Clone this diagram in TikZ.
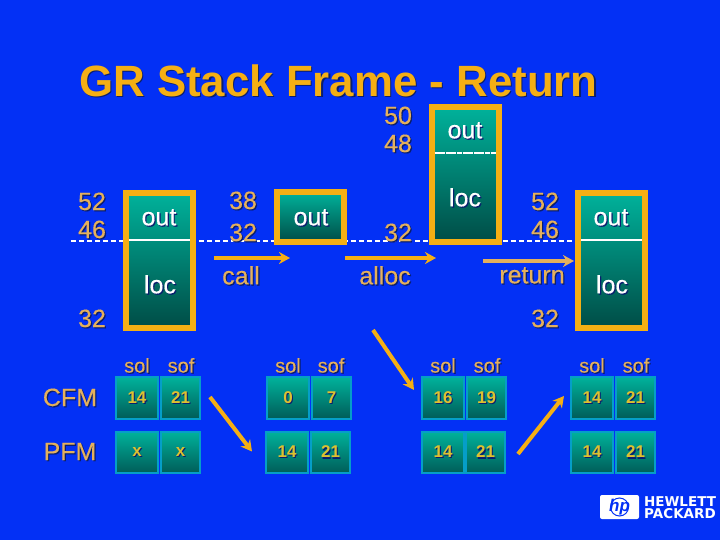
\documentclass[tikz,border=0pt]{standalone}
\usepackage{fontspec}
\setmainfont{Liberation Sans}
\newfontfamily\heavyfont[FakeBold=0.35]{Liberation Sans}
\newfontfamily\logofont{DejaVu Sans}
\usepackage{tikz}
\usetikzlibrary{
  arrows.meta,
  positioning,
  calc,
}
\definecolor{slideblue}{RGB}{3,48,245}
\definecolor{framegold}{RGB}{245,175,20}
\definecolor{labeltan}{RGB}{228,176,92}
\definecolor{cellyellow}{RGB}{222,192,48}
\definecolor{celledge}{RGB}{5,158,200}
\definecolor{tealtop}{RGB}{0,178,155}
\definecolor{tealbot}{RGB}{0,76,70}
\definecolor{cellbot}{RGB}{0,92,88}
\definecolor{shadowtone}{RGB}{10,30,110}
\newcommand{\shadowed}[1]{\makebox[0pt][l]{\kern1.2pt\raisebox{-1.2pt}{\textcolor{shadowtone}{#1}}}#1}

\begin{document}
\begin{tikzpicture}[
  x=1pt, y=-1pt,
  every node/.style={align=center, inner sep=0pt},
  framebox/.style={draw=framegold, line width=6pt, top color=tealtop, bottom color=tealbot, minimum width=67pt},
  tanlabel/.style={text=labeltan, font=\heavyfont\fontsize{25}{25}\selectfont},
  whitelabel/.style={text=white, font=\heavyfont\fontsize{25}{25}\selectfont},
  headlabel/.style={text=labeltan, font=\heavyfont\fontsize{20}{20}\selectfont},
  cell/.style={draw=celledge, line width=2pt, top color=tealtop, bottom color=cellbot,
    text=cellyellow, font=\fontsize{17}{17}\selectfont\bfseries, minimum height=41.5pt},
  solcell/.style={cell, minimum width=42pt},
  sofcell/.style={cell, minimum width=39pt},
  dashline/.style={white, line width=1.3pt, dash pattern=on 5pt off 3pt},
  splitline/.style={white, line width=1.3pt, shorten <=6pt, shorten >=6pt},
  goldarrow/.style={framegold, line width=4pt, -{Stealth[length=11pt, width=12pt]}},
  tanarrow/.style={labeltan, line width=4.5pt, -{Stealth[length=11pt, width=12pt]}},
]

\fill[slideblue] (0,0) rectangle (720,540);

\node[text=framegold, font=\fontsize{43.8}{43.8}\selectfont\bfseries, anchor=west] (title) at (79,81) {\shadowed{GR Stack Frame - Return}};

% dashed level across the frames
\coordinate (dashL) at (71,241);
\coordinate (dashR) at (575,241);
\draw[dashline] (dashL) -- (dashR);

% register frames
\node[framebox, minimum height=135pt] (frameA) at (159.5,260.5) {};
\node[framebox, minimum height=50pt] (frameB) at (310,217) {};
\node[framebox, minimum height=135pt] (frameC) at (465,174.5) {};
\node[framebox, minimum height=135pt] (frameD) at (611.5,260.5) {};

\coordinate (splitA) at (159.5,240);
\coordinate (splitC) at (465,153);
\coordinate (splitD) at (611.5,240);
\draw[splitline] (frameA.west |- splitA) -- (frameA.east |- splitA);
\draw[splitline, dash pattern=on 5pt off 0.6pt] (frameC.west |- splitC) -- (frameC.east |- splitC);
\draw[splitline] (frameD.west |- splitD) -- (frameD.east |- splitD);

\node[whitelabel] (outA) at (159,218) {\shadowed{out}};
\node[whitelabel] (locA) at (160,285) {\shadowed{loc}};
\node[whitelabel] (outB) at (311,218) {\shadowed{out}};
\node[whitelabel] (outC) at (465,131) {\shadowed{out}};
\node[whitelabel] (locC) at (465,198) {\shadowed{loc}};
\node[whitelabel] (outD) at (611,218) {\shadowed{out}};
\node[whitelabel] (locD) at (612,285) {\shadowed{loc}};

% register numbers
\node[tanlabel] (numA1) at (92,202) {\shadowed{52}};
\node[tanlabel] (numA2) at (92,230) {\shadowed{46}};
\node[tanlabel] (numA3) at (92,319) {\shadowed{32}};
\node[tanlabel] (numB1) at (243,201) {\shadowed{38}};
\node[tanlabel] (numB2) at (243,233) {\shadowed{32}};
\node[tanlabel] (numC1) at (398,116) {\shadowed{50}};
\node[tanlabel] (numC2) at (398,144) {\shadowed{48}};
\node[tanlabel] (numC3) at (398,233) {\shadowed{32}};
\node[tanlabel] (numD1) at (545,202) {\shadowed{52}};
\node[tanlabel] (numD2) at (545,230) {\shadowed{46}};
\node[tanlabel] (numD3) at (545,319) {\shadowed{32}};

% operations
\coordinate (callS) at (214,258);
\coordinate (callE) at (290,258);
\coordinate (allocS) at (345,258);
\coordinate (allocE) at (436,258);
\coordinate (returnS) at (483,261);
\coordinate (returnE) at (574,261);
\draw[goldarrow] (callS) -- (callE);
\draw[goldarrow] (allocS) -- (allocE);
\draw[tanarrow] (returnS) -- (returnE);
\node[tanlabel] (callL) at (241,276) {\shadowed{call}};
\node[tanlabel] (allocL) at (385,276) {\shadowed{alloc}};
\node[tanlabel] (returnL) at (532,276) {\shadowed{return}};

% frame markers
\node[tanlabel] (cfmL) at (70,398) {\shadowed{CFM}};
\node[tanlabel] (pfmL) at (70,452) {\shadowed{PFM}};

\node[headlabel] (solA) at (137,366) {\shadowed{sol}};
\node[headlabel] (sofA) at (181,366) {\shadowed{sof}};
\node[headlabel] (solB) at (288,366) {\shadowed{sol}};
\node[headlabel] (sofB) at (331,366) {\shadowed{sof}};
\node[headlabel] (solC) at (443,366) {\shadowed{sol}};
\node[headlabel] (sofC) at (487,366) {\shadowed{sof}};
\node[headlabel] (solD) at (592,366) {\shadowed{sol}};
\node[headlabel] (sofD) at (636,366) {\shadowed{sof}};

\node[solcell] (cfmA1) at (137,398) {\shadowed{14}};
\node[sofcell] (cfmA2) at (180.5,398) {\shadowed{21}};
\node[solcell] (pfmA1) at (137,452.5) {\shadowed{x}};
\node[sofcell] (pfmA2) at (180.5,452.5) {\shadowed{x}};
\node[solcell] (cfmB1) at (288,398) {\shadowed{0}};
\node[sofcell] (cfmB2) at (331.5,398) {\shadowed{7}};
\node[solcell] (pfmB1) at (287,452.5) {\shadowed{14}};
\node[sofcell] (pfmB2) at (330.5,452.5) {\shadowed{21}};
\node[solcell] (cfmC1) at (443,398) {\shadowed{16}};
\node[sofcell] (cfmC2) at (486.5,398) {\shadowed{19}};
\node[solcell] (pfmC1) at (443,452.5) {\shadowed{14}};
\node[sofcell] (pfmC2) at (485.5,452.5) {\shadowed{21}};
\node[solcell] (cfmD1) at (592,398) {\shadowed{14}};
\node[sofcell] (cfmD2) at (635.5,398) {\shadowed{21}};
\node[solcell] (pfmD1) at (592,452.5) {\shadowed{14}};
\node[sofcell] (pfmD2) at (635.5,452.5) {\shadowed{21}};

\coordinate (stepAS) at (210,397);
\coordinate (stepAE) at (252,451.5);
\coordinate (stepBS) at (373,330);
\coordinate (stepBE) at (414,390);
\coordinate (stepCS) at (518,454);
\coordinate (stepCE) at (564,396);
\draw[goldarrow] (stepAS) -- (stepAE);
\draw[goldarrow] (stepBS) -- (stepBE);
\draw[goldarrow] (stepCS) -- (stepCE);

% logo
\node[fill=white, rounded corners=2pt, minimum width=39pt, minimum height=24pt, text=slideblue,
  font=\fontsize{17}{17}\selectfont\bfseries\itshape] (hpbox) at (619.5,507) {hp};
\draw[slideblue, line width=1pt] (hpbox) circle (9pt);
\node[text=white, font=\logofont\fontsize{13.5}{13.5}\selectfont\bfseries] (hewlett) at (680,502) {HEWLETT};
\node[text=white, font=\logofont\fontsize{13.5}{13.5}\selectfont\bfseries] (packard) at (680,514) {PACKARD};

\end{tikzpicture}
\end{document}
